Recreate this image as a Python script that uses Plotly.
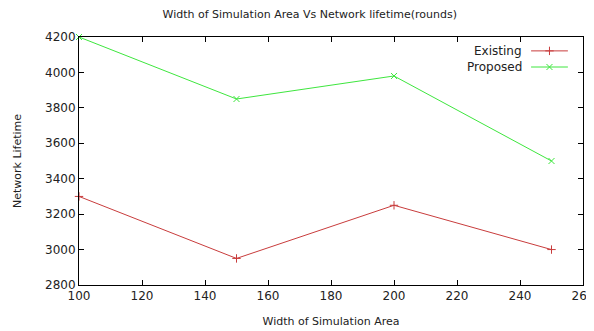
import plotly.graph_objects as go

width_area = [100, 150, 200, 250]
existing = [3300, 2950, 3250, 3000]
proposed = [4200, 3850, 3980, 3500]
series_names = ["Existing", "Proposed"]
colors = ["#c83c3c", "#3ee63e"]
symbols = ["cross-thin", "x-thin"]

fig = go.Figure()
for name, vals, c, s in zip(series_names, [existing, proposed], colors, symbols):
    fig.add_trace(go.Scatter(x=width_area, y=vals, mode="lines+markers", name=name,
                             line=dict(color=c, width=1),
                             marker=dict(symbol=s, size=6, line=dict(color=c, width=1)),
                             showlegend=False, cliponaxis=False))

# manual gnuplot-style legend (text right, sample left->right)
leg_y = [0.944, 0.879]
for name, c, s, ly in zip(series_names, colors, symbols, leg_y):
    fig.add_trace(go.Scatter(x=[0.897, 0.970], y=[ly, ly], mode="lines", xaxis="x2", yaxis="y2",
                             line=dict(color=c, width=1), showlegend=False, hoverinfo="skip"))
    fig.add_trace(go.Scatter(x=[0.9335], y=[ly], mode="markers", xaxis="x2", yaxis="y2",
                             marker=dict(symbol=s, size=6, line=dict(color=c, width=1)),
                             showlegend=False, hoverinfo="skip"))
    fig.add_annotation(x=0.883, y=ly, xref="x2", yref="y2", text=name, showarrow=False,
                       xanchor="right", yanchor="middle", font=dict(size=12, color="#222"))

axis_common = dict(showgrid=False, zeroline=False, showline=True, linecolor="black", linewidth=1,
                   ticks="inside", ticklen=5, tickcolor="black", mirror="ticks", automargin=False,
                   ticklabeloverflow="allow", tickfont=dict(size=12, color="#222"))

fig.update_layout(
    width=594, height=323,
    margin=dict(l=71, r=19, t=29, b=46, autoexpand=False),
    paper_bgcolor="white", plot_bgcolor="white",
    font=dict(family="DejaVu Sans", size=12, color="#222"),
    title=dict(text="Width of Simulation Area Vs Network lifetime(rounds)", x=0.508, xanchor="center",
               y=0.981, yanchor="middle", font=dict(size=11), automargin=False),
    xaxis=dict(range=[100, 260], dtick=20, tick0=100,
               title=dict(text="Width of Simulation Area", font=dict(size=11), standoff=14), **axis_common),
    yaxis=dict(range=[2800, 4200], dtick=200, tick0=2800,
               title=dict(text="Network Lifetime", font=dict(size=11), standoff=21), **axis_common),
    xaxis2=dict(range=[0, 1], overlaying="x", visible=False, fixedrange=True),
    yaxis2=dict(range=[0, 1], overlaying="y", visible=False, fixedrange=True),
)

fig.write_html("out.html")
